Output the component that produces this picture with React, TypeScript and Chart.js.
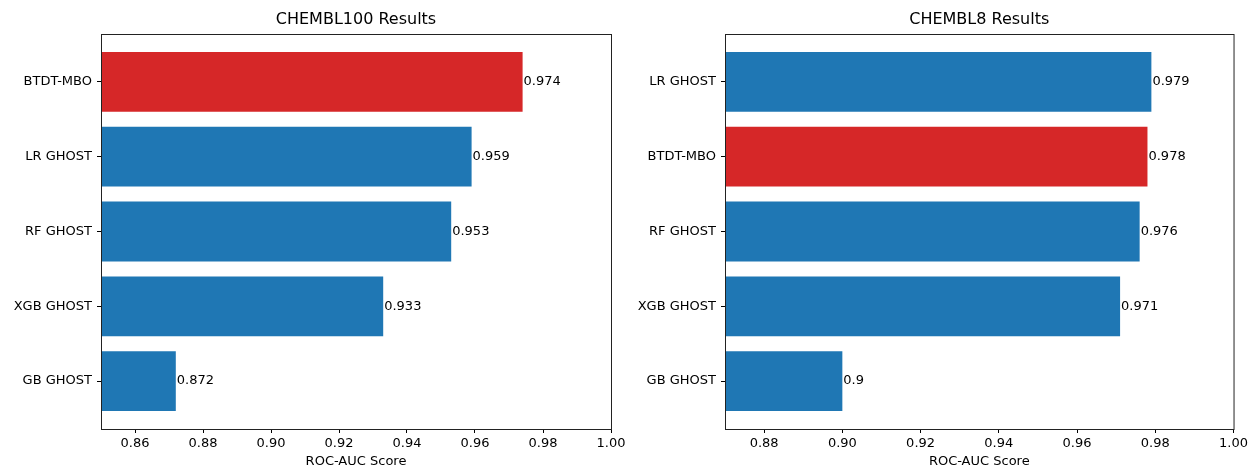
import React, { useEffect, useRef } from "react";
import { Chart, registerables } from "chart.js";

Chart.register(...registerables);

// CHEMBL100 benchmark (top to bottom)
const chembl100Models = ["BTDT-MBO", "LR GHOST", "RF GHOST", "XGB GHOST", "GB GHOST"];
const chembl100Scores = [0.974, 0.959, 0.953, 0.933, 0.872];
const chembl100Ticks = [0.86, 0.88, 0.9, 0.92, 0.94, 0.96, 0.98, 1.0];

// CHEMBL8 benchmark (top to bottom)
const chembl8Models = ["LR GHOST", "BTDT-MBO", "RF GHOST", "XGB GHOST", "GB GHOST"];
const chembl8Scores = [0.979, 0.978, 0.976, 0.971, 0.9];
const chembl8Ticks = [0.88, 0.9, 0.92, 0.94, 0.96, 0.98, 1.0];

const highlightModel = "BTDT-MBO";
const BLUE = "#1f77b4";
const RED = "#d62728";
const FONT = "'DejaVu Sans', sans-serif";

// Frame, panel title and value labels drawn on top of the bars
const panelDecor = {
  id: "panelDecor",
  afterDatasetsDraw(chart: any, _args: any, opts: any) {
    const { ctx, chartArea } = chart;
    const meta = chart.getDatasetMeta(0);
    ctx.save();
    ctx.fillStyle = "#000";
    ctx.font = `13px ${FONT}`;
    ctx.textAlign = "left";
    ctx.textBaseline = "middle";
    meta.data.forEach((bar: any, i: number) => {
      ctx.fillText(String(opts.values[i]), bar.x + 1, bar.y);
    });
    ctx.strokeStyle = "#222";
    ctx.lineWidth = 1;
    ctx.strokeRect(chartArea.left + 0.5, chartArea.top + 0.5, chartArea.width, chartArea.height);
    ctx.font = `16px ${FONT}`;
    ctx.textAlign = "center";
    ctx.fillText(opts.title, (chartArea.left + chartArea.right) / 2, 19.5);
    ctx.restore();
  },
};

type PanelProps = {
  title: string;
  models: string[];
  scores: number[];
  xMin: number;
  xTicks: number[];
  left: number;
  width: number;
  axisWidth: number;
  padRight: number;
};

function Panel({ title, models, scores, xMin, xTicks, left, width, axisWidth, padRight }: PanelProps) {
  const ref = useRef<HTMLCanvasElement | null>(null);

  useEffect(() => {
    if (!ref.current) return;
    const chart = new Chart(ref.current, {
      type: "bar",
      data: {
        datasets: [
          {
            data: scores.map((s, i) => ({ x: s, y: i })),
            backgroundColor: models.map((m) => (m === highlightModel ? RED : BLUE)),
            borderWidth: 0,
            barPercentage: 0.8,
            categoryPercentage: 1,
          } as any,
        ],
      },
      options: {
        indexAxis: "y",
        responsive: false,
        maintainAspectRatio: false,
        animation: false,
        layout: { padding: { left: 0, right: padRight, top: 34, bottom: 0 } },
        plugins: {
          legend: { display: false },
          tooltip: { enabled: false },
          title: { display: false },
          panelDecor: { title, values: scores },
        } as any,
        scales: {
          x: {
            type: "linear",
            min: xMin,
            max: 1.0,
            border: { display: false },
            grid: { display: true, drawOnChartArea: false, drawTicks: true, tickLength: 4, color: "#000" },
            ticks: {
              font: { family: FONT, size: 13 },
              color: "#000",
              padding: 3,
              maxRotation: 0,
              autoSkip: false,
              callback: (v: any) => Number(v).toFixed(2),
            },
            afterBuildTicks: (scale: any) => {
              scale.ticks = xTicks.map((v) => ({ value: v }));
            },
            afterFit: (scale: any) => {
              scale.height = 41;
            },
            title: {
              display: true,
              text: "ROC-AUC Score",
              color: "#000",
              font: { family: FONT, size: 13 },
              padding: { top: 0, bottom: 1 },
            },
          },
          y: {
            type: "linear",
            reverse: true,
            offset: false,
            min: -0.64,
            max: models.length - 1 + 0.64,
            border: { display: false },
            grid: {
              display: true,
              offset: false,
              drawOnChartArea: false,
              drawTicks: true,
              tickLength: 4,
              color: "#000",
            },
            ticks: {
              font: { family: FONT, size: 13 },
              color: "#000",
              padding: 5,
              autoSkip: false,
              callback: (v: any) => models[Number(v)] ?? "",
            },
            afterBuildTicks: (scale: any) => {
              scale.ticks = models.map((_, i) => ({ value: i }));
            },
            afterFit: (scale: any) => {
              scale.width = axisWidth;
            },
          },
        } as any,
      },
      plugins: [panelDecor],
    });
    return () => chart.destroy();
  }, [title, models, scores, xMin, xTicks, axisWidth, padRight]);

  return (
    <canvas
      ref={ref}
      width={width}
      height={470}
      style={{ position: "absolute", left, top: 0, width, height: 470 }}
    />
  );
}

export default function App() {
  return (
    <div
      style={{
        position: "fixed",
        left: 0,
        top: 0,
        width: 1251,
        height: 470,
        background: "#fff",
        overflow: "hidden",
      }}
    >
      <Panel
        title="CHEMBL100 Results"
        models={chembl100Models}
        scores={chembl100Scores}
        xMin={0.85}
        xTicks={chembl100Ticks}
        left={0}
        width={640}
        axisWidth={101}
        padRight={29}
      />
      <Panel
        title="CHEMBL8 Results"
        models={chembl8Models}
        scores={chembl8Scores}
        xMin={0.87}
        xTicks={chembl8Ticks}
        left={620}
        width={631}
        axisWidth={105}
        padRight={16}
      />
    </div>
  );
}
